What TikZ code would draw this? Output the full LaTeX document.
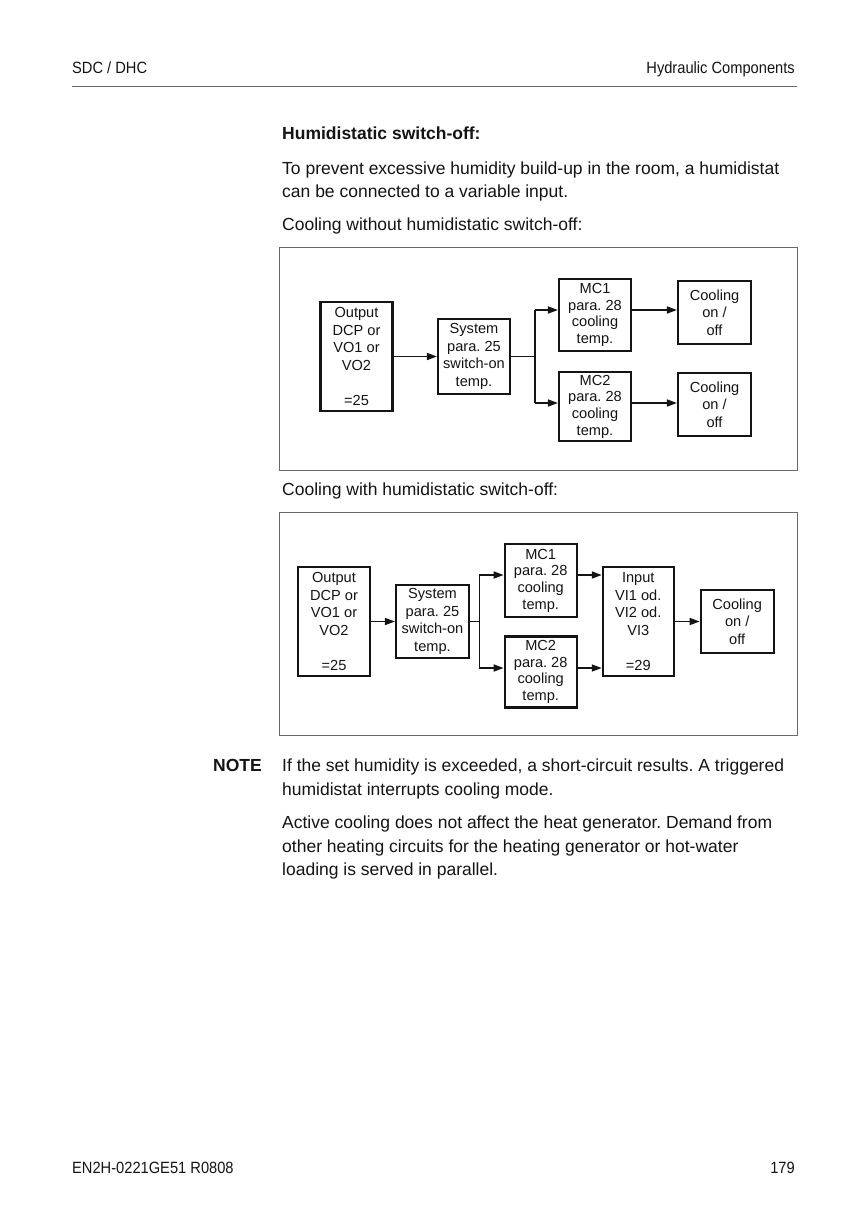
\documentclass[tikz,border=0pt]{standalone}
\usepackage{fontspec}
\setmainfont{Liberation Sans}
\newfontfamily\narrowfont[FakeStretch=0.9]{Liberation Sans}
\usetikzlibrary{arrows.meta}
\frenchspacing

\definecolor{ink}{RGB}{20,20,20}
\definecolor{rulegray}{RGB}{105,105,105}

\tikzset{
  blockbox/.style={draw=ink, line width=2.1pt, align=center, inner sep=0pt,
    minimum width=72pt, text=ink, font=\fontsize{14.6}{17.5}\selectfont},
  mcbox/.style={blockbox, font=\fontsize{14.6}{16.7}\selectfont},
  flow/.style={draw=ink, line width=1.6pt, -{Triangle[length=10pt,width=7pt]}},
  feed/.style={draw=ink, line width=1.6pt},
  bodyline/.style={anchor=base west, inner sep=0pt, text=ink,
    font=\fontsize{17.5}{23}\selectfont},
  headline/.style={inner sep=0pt, text=ink, font=\narrowfont\fontsize{16.3}{20}\selectfont},
  panel/.style={draw=rulegray, line width=1pt}
}

\begin{document}
\begin{tikzpicture}[x=1pt,y=-1pt]
\path[use as bounding box, fill=white] (0,0) rectangle (868,1227);

% page head and foot
\node[headline, anchor=base west] (head) at (72,73) {SDC / DHC};
\node[headline, anchor=base east] (chapter) at (795,73) {Hydraulic Components};
\draw[rulegray, line width=1pt] (72,86) -- (797,86);
\node[headline, anchor=base west] (docno) at (72,1173) {EN2H-0221GE51 R0808};
\node[headline, anchor=base east] (pageno) at (795,1173) {179};

% text above the diagrams
\node[bodyline, font=\fontsize{17.5}{23}\bfseries] (title) at (282,139) {Humidistatic switch-off:};
\node[bodyline] (introA) at (282,174) {To prevent excessive humidity build-up in the room, a humidistat};
\node[bodyline] (introB) at (282,197) {can be connected to a variable input.};
\node[bodyline] (capA) at (282,230) {Cooling without humidistatic switch-off:};

% without humidistat
\draw[panel] (279,247) rectangle (797,470);
\node[blockbox, minimum height=109pt] (outA) at (356.5,356.5) {Output\\DCP or\\VO1 or\\VO2\\[17.5pt]=25};
\node[blockbox, minimum height=75pt] (sysA) at (474,356.5) {System\\para. 25\\switch-on\\temp.};
\node[mcbox, minimum height=72pt] (mconeA) at (595,315) {MC1\\para. 28\\cooling\\temp.};
\node[mcbox, minimum height=69pt] (mctwoA) at (595,406.5) {MC2\\para. 28\\cooling\\temp.};
\node[blockbox, minimum width=73pt, minimum height=63pt] (cooloneA) at (714.5,312.5) {Cooling\\on /\\off};
\node[blockbox, minimum width=73pt, minimum height=63pt] (cooltwoA) at (714.5,404.5) {Cooling\\on /\\off};

\coordinate (forkA) at (535,356.5);
\coordinate (forkAup) at (535,310);
\coordinate (forkAdown) at (535,403);
\draw[flow] (outA.east) -- (sysA.west);
\draw[feed] (sysA.east) -- (forkA);
\draw[feed] (forkAup) -- (forkAdown);
\draw[flow] (forkAup) -- (forkAup -| mconeA.west);
\draw[flow] (forkAdown) -- (forkAdown -| mctwoA.west);
\draw[flow] (mconeA.east |- forkAup) -- (cooloneA.west |- forkAup);
\draw[flow] (mctwoA.east |- forkAdown) -- (cooltwoA.west |- forkAdown);

\node[bodyline] (capB) at (282,495) {Cooling with humidistatic switch-off:};

% with humidistat
\draw[panel] (279,512) rectangle (797,735);
\node[blockbox, minimum height=109pt] (outB) at (334,621.5) {Output\\DCP or\\VO1 or\\VO2\\[17.5pt]=25};
\node[blockbox, minimum width=73pt, minimum height=73pt] (sysB) at (432.5,621.5) {System\\para. 25\\switch-on\\temp.};
\node[mcbox, minimum height=73pt] (mconeB) at (540.7,580.5) {MC1\\para. 28\\cooling\\temp.};
\node[mcbox, minimum height=71pt] (mctwoB) at (540.7,672) {MC2\\para. 28\\cooling\\temp.};
\node[blockbox, minimum width=71pt, minimum height=109pt] (inputB) at (638.3,621.5) {Input\\VI1 od.\\VI2 od.\\VI3\\[17.5pt]=29};
\node[blockbox, minimum width=73pt, minimum height=63pt] (coolB) at (737.2,621.5) {Cooling\\on /\\off};

\coordinate (forkB) at (479.3,621.5);
\coordinate (forkBup) at (479.3,575);
\coordinate (forkBdown) at (479.3,668);
\draw[flow] (outB.east) -- (sysB.west);
\draw[feed] (sysB.east) -- (forkB);
\draw[feed] (forkBup) -- (forkBdown);
\draw[flow] (forkBup) -- (forkBup -| mconeB.west);
\draw[flow] (forkBdown) -- (forkBdown -| mctwoB.west);
\draw[flow] (mconeB.east |- forkBup) -- (inputB.west |- forkBup);
\draw[flow] (mctwoB.east |- forkBdown) -- (inputB.west |- forkBdown);
\draw[flow] (inputB.east) -- (coolB.west);

% note
\node[bodyline, font=\fontsize{17.5}{23}\bfseries] (note) at (213,771) {NOTE};
\node[bodyline] (noteA) at (282,771) {If the set humidity is exceeded, a short-circuit results. A triggered};
\node[bodyline] (noteB) at (282,795) {humidistat interrupts cooling mode.};
\node[bodyline] (noteC) at (282,828) {Active cooling does not affect the heat generator. Demand from};
\node[bodyline] (noteD) at (282,852) {other heating circuits for the heating generator or hot-water};
\node[bodyline] (noteE) at (282,875) {loading is served in parallel.};
\end{tikzpicture}
\end{document}
